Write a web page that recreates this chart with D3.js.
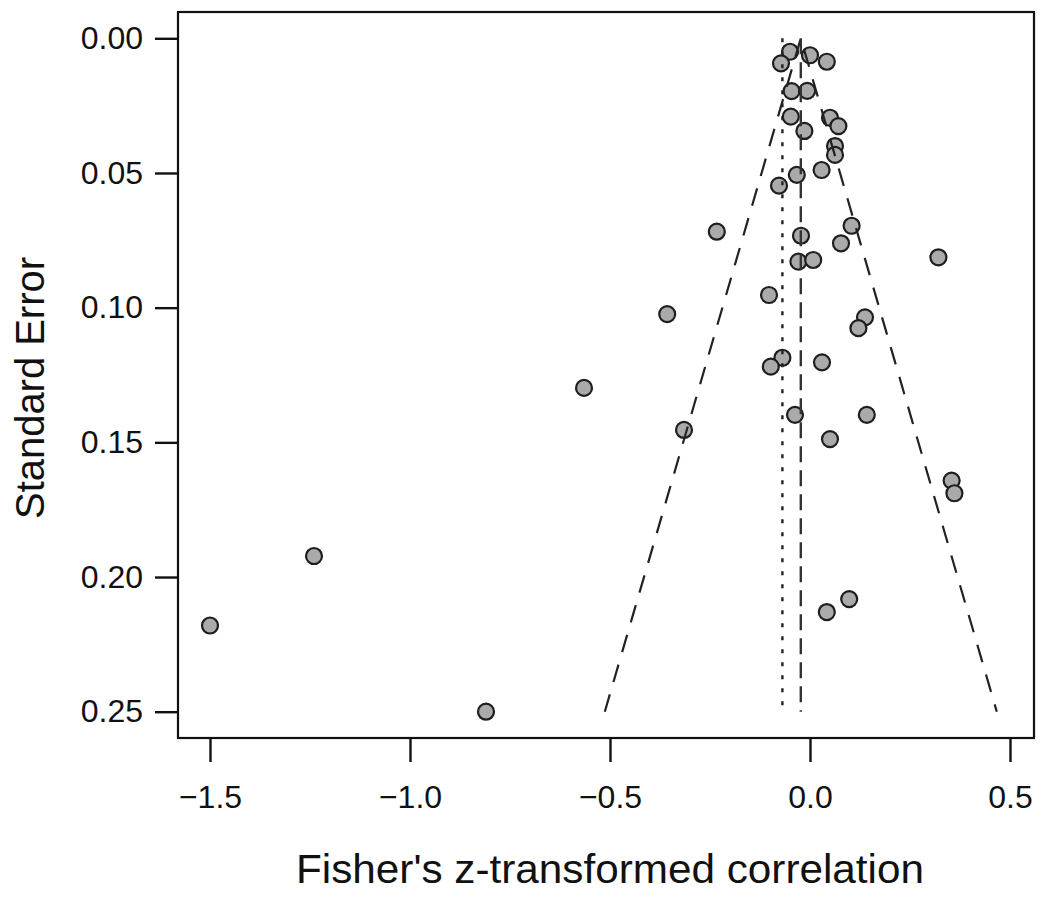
<!DOCTYPE html>
<html>
<head>
<meta charset="utf-8">
<script src="https://cdn.jsdelivr.net/npm/d3@7"></script>
<style>
  html, body { margin: 0; padding: 0; background: #fff; }
  svg { display: block; font-family: "Liberation Sans", Arial, Helvetica, sans-serif; }
</style>
</head>
<body>
<svg id="chart" width="1050" height="900"></svg>
<script>
// ---- data ----
const fisherZ = [
  -0.050, -0.0725, 0.000, 0.042, -0.046, -0.007, -0.048, 0.050, 0.071, -0.014,
  0.0625, 0.0625, 0.029, -0.033, -0.0775, -0.233, 0.104, -0.0225, 0.0775, -0.029,
  0.008, 0.321, -0.1025, -0.357, 0.1375, 0.121, -0.069, -0.098, 0.030, -0.0375,
  0.142, -0.315, 0.050, -0.565, 0.354, 0.361, 0.098, 0.042, -1.24, -1.50, -0.81
];
const stdErr = [
  0.0050, 0.0093, 0.0063, 0.0087, 0.0196, 0.0195, 0.0291, 0.0295, 0.0326, 0.0344,
  0.0400, 0.0433, 0.0489, 0.0507, 0.0547, 0.0718, 0.0696, 0.0733, 0.0761, 0.0829,
  0.0823, 0.0813, 0.0953, 0.1024, 0.1036, 0.1076, 0.1186, 0.1219, 0.1203, 0.1398,
  0.1398, 0.1454, 0.1488, 0.1298, 0.1642, 0.1689, 0.2082, 0.2130, 0.1922, 0.2180, 0.2500
];
const xTicks = [-1.5, -1.0, -0.5, 0.0, 0.5];
const yTicks = [0.00, 0.05, 0.10, 0.15, 0.20, 0.25];
const pooledEstimate = -0.023;   // funnel centre (dashed)
const adjustedEstimate = -0.069; // dotted reference line
const maxSE = 0.25;
const xTitle = "Fisher's z-transformed correlation";
const yTitle = "Standard Error";

// ---- layout ----
const box = { left: 178, top: 12, right: 1034, bottom: 738 };
const svg = d3.select("#chart");

const x = d3.scaleLinear().domain([-1.5, 0.5]).range([210, 1010]);
const y = d3.scaleLinear().domain([0, 0.25]).range([38.3, 711.7]);

// points
const pts = fisherZ.map((v, i) => ({ x: v, se: stdErr[i] }));
svg.append("g").selectAll("circle").data(pts).join("circle")
  .attr("cx", d => x(d.x))
  .attr("cy", d => y(d.se))
  .attr("r", 8)
  .attr("fill", "#aaaaaa")
  .attr("stroke", "#1e1e1e")
  .attr("stroke-width", 2.2);

// funnel lines
const line = d3.line().x(d => x(d[0])).y(d => y(d[1]));
const lines = svg.append("g").attr("fill", "none");
lines.append("path")
  .attr("d", line([[pooledEstimate - 1.96 * maxSE, maxSE], [pooledEstimate, 0], [pooledEstimate + 1.96 * maxSE, maxSE]]))
  .attr("stroke", "#222").attr("stroke-width", 2.2).attr("stroke-dasharray", "18,13");
lines.append("path")
  .attr("d", line([[pooledEstimate, 0], [pooledEstimate, maxSE]]))
  .attr("stroke", "#333").attr("stroke-width", 2.4).attr("stroke-dasharray", "16,8");
lines.append("path")
  .attr("d", line([[adjustedEstimate, 0], [adjustedEstimate, maxSE]]))
  .attr("stroke", "#222").attr("stroke-width", 2.4).attr("stroke-dasharray", "4,9");

// box
svg.append("rect")
  .attr("x", box.left).attr("y", box.top)
  .attr("width", box.right - box.left).attr("height", box.bottom - box.top)
  .attr("fill", "none").attr("stroke", "#111").attr("stroke-width", 2.2);

// x axis
const xAxis = d3.axisBottom(x).tickValues(xTicks).tickSize(24).tickPadding(23)
  .tickFormat(d => d3.format(".1f")(d).replace("-", "\u2212"));
const gx = svg.append("g").attr("transform", `translate(0,${box.bottom})`).call(xAxis);
gx.select(".domain").remove();
gx.selectAll(".tick line").attr("stroke", "#111").attr("stroke-width", 2.4);
gx.selectAll(".tick text").attr("font-size", 32).attr("fill", "#111")
  .attr("font-family", "'Liberation Sans', Arial, sans-serif");

// y axis
const yAxis = d3.axisLeft(y).tickValues(yTicks).tickSize(23).tickPadding(12)
  .tickFormat(d3.format(".2f"));
const gy = svg.append("g").attr("transform", `translate(${box.left},0)`).call(yAxis);
gy.select(".domain").remove();
gy.selectAll(".tick line").attr("stroke", "#111").attr("stroke-width", 2.4);
gy.selectAll(".tick text").attr("font-size", 32).attr("fill", "#111")
  .attr("font-family", "'Liberation Sans', Arial, sans-serif");

// titles
svg.append("text")
  .attr("x", 610).attr("y", 883)
  .attr("text-anchor", "middle")
  .attr("font-size", 40).attr("fill", "#111")
  .attr("textLength", 628).attr("lengthAdjust", "spacingAndGlyphs")
  .text(xTitle);

svg.append("text")
  .attr("transform", "translate(44,388) rotate(-90)")
  .attr("text-anchor", "middle")
  .attr("font-size", 40).attr("fill", "#111")
  .attr("textLength", 262).attr("lengthAdjust", "spacingAndGlyphs")
  .text(yTitle);
</script>
</body>
</html>
